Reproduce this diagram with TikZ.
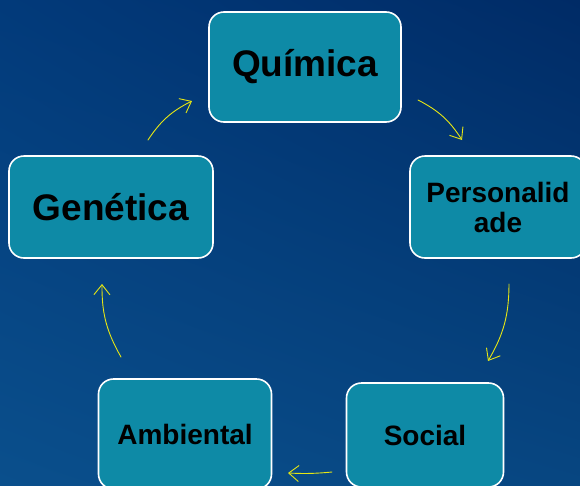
\documentclass[tikz,border=0pt]{standalone}
\usepackage{fontspec}
\setmainfont{Liberation Sans}
\usetikzlibrary{arrows.meta}
\usetikzlibrary{shadings}
\definecolor{bgtl}{RGB}{2,58,122}
\definecolor{bgtr}{RGB}{0,43,102}
\definecolor{bgbl}{RGB}{10,79,140}
\definecolor{bgbr}{RGB}{7,70,129}
\definecolor{boxteal}{RGB}{14,138,166}
\definecolor{arrowyellow}{RGB}{230,230,20}

\begin{document}
\begin{tikzpicture}[
            x = 1pt, y = -1pt, % pixel grid of the slide
            > = {Straight Barb[length=10pt, width=16pt]}, % open arrow head
            line cap = round,
            cyclearrow/.style = {->, draw = arrowyellow, line width = 0.9pt, bend left = 15}
            ]

        \tikzstyle{phase}=[
            draw = white,
            line width = 1.6pt,
            fill = boxteal,
            rounded corners = 15pt,
            align = center,
            font = \bfseries,
            text = black,
            inner sep = 0pt
        ]

    % slide background
    \path[use as bounding box, clip] (0,0) rectangle (580,485);
    \shade[upper left = bgtl, upper right = bgtr, lower left = bgbl, lower right = bgbr]
        (0,0) rectangle (580,485);

	% phases of the cycle
	\node[phase, minimum width = 192pt, minimum height = 110pt, font = \fontsize{37}{40}\bfseries] (Q) at (305,67) {Química};
	\node[phase, minimum width = 176pt, minimum height = 102pt, font = \fontsize{28}{30}\bfseries] (P) at (498,207) {Personalid\\ade};
	\node[phase, minimum width = 157pt, minimum height = 104pt, font = \fontsize{28}{30}\bfseries] (S) at (425,435) {Social};
	\node[phase, minimum width = 173pt, minimum height = 110pt, font = \fontsize{28}{30}\bfseries] (A) at (185,434) {Ambiental};
	\node[phase, minimum width = 204pt, minimum height = 102pt, font = \fontsize{37}{40}\bfseries] (G) at (111,207) {Genética};

	% arrow ends
	\coordinate (QPs) at (418,100);
	\coordinate (QPe) at (462,140);
	\coordinate (PSs) at (509,284);
	\coordinate (PSe) at (488,361);
	\coordinate (SAs) at (332,472);
	\coordinate (SAe) at (288,473);
	\coordinate (AGs) at (121,357);
	\coordinate (AGe) at (102,284);
	\coordinate (GQs) at (148,140);
	\coordinate (GQe) at (192,101);

	% cycle arrows
	\draw[cyclearrow] (QPs) to (QPe);
	\draw[cyclearrow] (PSs) to (PSe);
	\draw[cyclearrow, bend left = 4] (SAs) to (SAe);
	\draw[cyclearrow] (AGs) to (AGe);
	\draw[cyclearrow] (GQs) to (GQe);

  \end{tikzpicture}
\end{document}
